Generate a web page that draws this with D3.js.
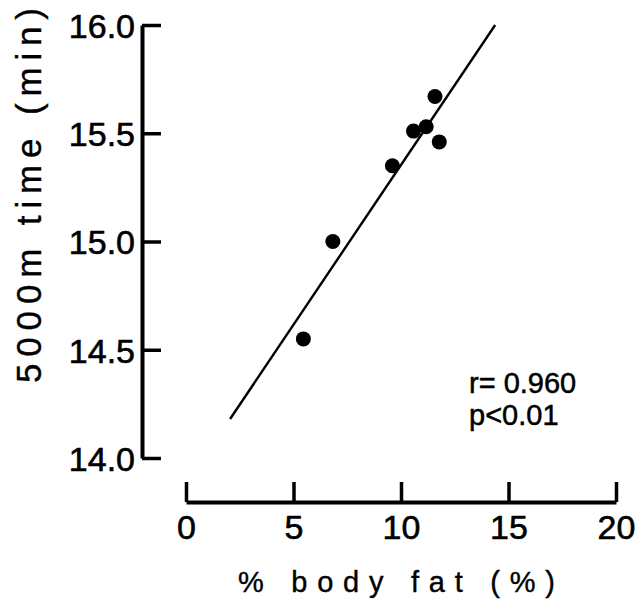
<!DOCTYPE html>
<html>
<head>
<meta charset="utf-8">
<script src="https://cdn.jsdelivr.net/npm/d3@7"></script>
<style>
  html, body { margin: 0; padding: 0; background: #fff; }
  svg { display: block; }
  text { font-family: "Liberation Sans", Arial, Helvetica, sans-serif; fill: #000; }
</style>
</head>
<body>
<svg id="chart" width="643" height="607"></svg>
<script>
// Data
const bodyFat = [5.46, 6.83, 9.60, 10.58, 11.17, 11.58, 11.78];
const runTime = [14.55, 15.00, 15.35, 15.51, 15.53, 15.67, 15.46];
const fitLineX = [2.05, 14.38];
const fitLineY = [14.18, 16.0];
const xTicks = [0, 5, 10, 15, 20];
const yTicks = [14.0, 14.5, 15.0, 15.5, 16.0];
const xTitle = "% body fat (%)";
const yTitle = "5000m time (min)";
const statLines = ["r= 0.960", "p<0.01"];

const svg = d3.select("#chart");

const x = d3.scaleLinear().domain([0, 20]).range([186, 616]);
const y = d3.scaleLinear().domain([14, 16]).range([458, 25]);

// Y axis (ticks pointing inward)
const yAxis = d3.axisLeft(y)
  .tickValues(yTicks)
  .tickFormat(d3.format(".1f"))
  .tickSizeInner(-19)
  .tickSizeOuter(0)
  .tickPadding(7);
const gy = svg.append("g").attr("transform", "translate(142,0)").call(yAxis);
gy.select(".domain").attr("stroke", "#000").attr("stroke-width", 4);
gy.selectAll(".tick line").attr("stroke", "#000").attr("stroke-width", 3.5);
gy.selectAll(".tick text")
  .attr("font-size", 34)
  .attr("font-family", "Liberation Sans, Arial, sans-serif")
  .attr("fill", "#000").attr("stroke", "#000").attr("stroke-width", 0.6)
  .attr("dy", "0.36em");

// X axis (ticks pointing up)
const xAxis = d3.axisBottom(x)
  .tickValues(xTicks)
  .tickFormat(d3.format("d"))
  .tickSizeInner(-20)
  .tickSizeOuter(0)
  .tickPadding(13);
const gx = svg.append("g").attr("transform", "translate(0,502)").call(xAxis);
gx.select(".domain").attr("stroke", "#000").attr("stroke-width", 4);
gx.selectAll(".tick line").attr("stroke", "#000").attr("stroke-width", 3.5);
gx.selectAll(".tick text")
  .attr("font-size", 34)
  .attr("font-family", "Liberation Sans, Arial, sans-serif")
  .attr("fill", "#000").attr("stroke", "#000").attr("stroke-width", 0.6);

// Regression line
svg.append("line")
  .attr("x1", x(fitLineX[0])).attr("y1", y(fitLineY[0]))
  .attr("x2", x(fitLineX[1])).attr("y2", y(fitLineY[1]))
  .attr("stroke", "#000").attr("stroke-width", 2.4);

// Points
svg.append("g").selectAll("circle")
  .data(bodyFat.map((d, i) => [d, runTime[i]]))
  .join("circle")
  .attr("cx", d => x(d[0]))
  .attr("cy", d => y(d[1]))
  .attr("r", 7.5)
  .attr("fill", "#000");

// Axis titles
svg.append("text")
  .attr("x", 238).attr("y", 592)
  .attr("font-family", "DejaVu Sans, sans-serif")
  .attr("font-size", 29)
  .attr("stroke", "#000").attr("stroke-width", 0.4)
  .attr("textLength", 317)
  .attr("lengthAdjust", "spacing")
  .text(xTitle);

svg.append("text")
  .attr("transform", "translate(41,383) rotate(-90)")
  .attr("font-family", "DejaVu Sans, sans-serif")
  .attr("font-size", 35)
  .attr("stroke", "#000").attr("stroke-width", 0.4)
  .attr("textLength", 375)
  .attr("lengthAdjust", "spacing")
  .text(yTitle);

// Stats annotation
svg.append("g").selectAll("text")
  .data(statLines)
  .join("text")
  .attr("x", 469)
  .attr("y", (d, i) => 393 + i * 32)
  .attr("font-size", 29)
  .attr("stroke", "#000").attr("stroke-width", 0.5)
  .text(d => d);
</script>
</body>
</html>
